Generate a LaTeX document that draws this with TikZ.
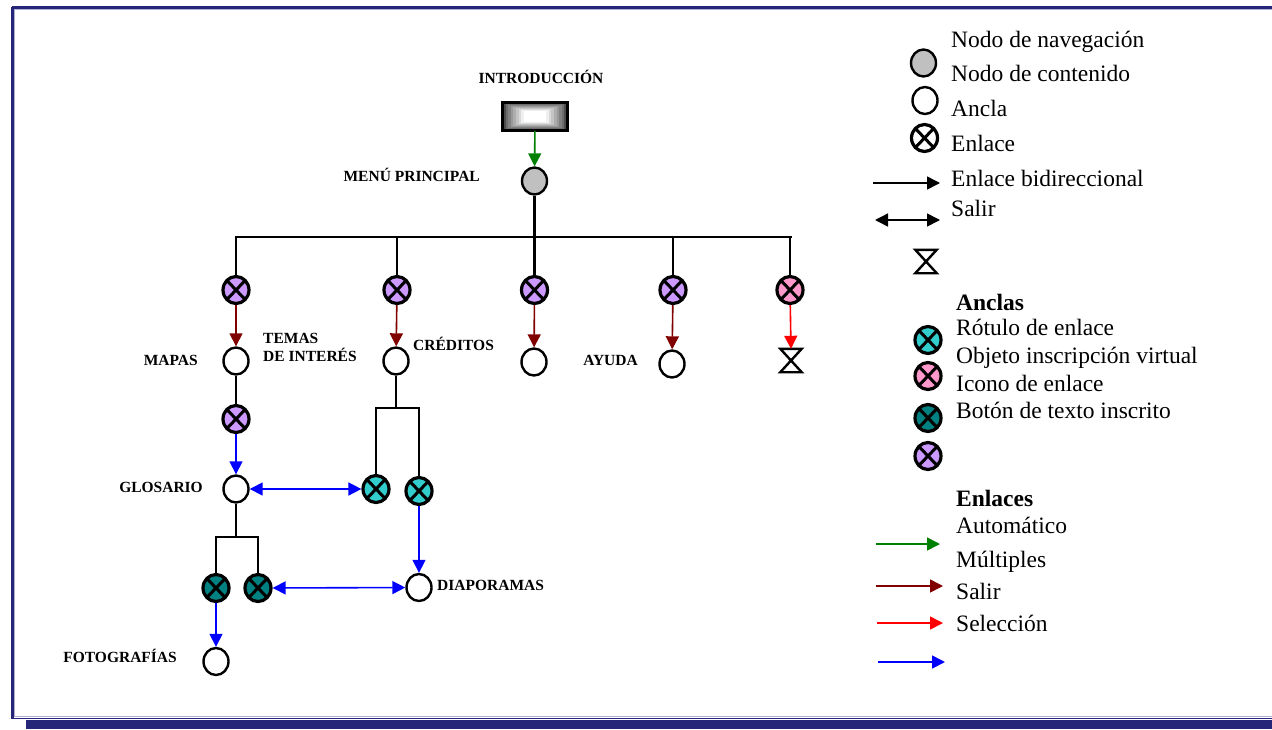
\documentclass[tikz,border=0pt]{standalone}
\usepackage{fontspec}
\setmainfont{Liberation Serif}
\usetikzlibrary{arrows.meta,shapes.geometric}
\definecolor{navy}{RGB}{38,38,120}
\definecolor{lav}{RGB}{175,175,215}
\definecolor{purp}{RGB}{204,153,255}
\definecolor{pnk}{RGB}{255,153,204}
\definecolor{cyn}{RGB}{51,204,204}
\definecolor{tl}{RGB}{0,128,128}
\definecolor{gry}{RGB}{192,192,192}
\definecolor{dred}{RGB}{128,0,0}
\definecolor{grn}{RGB}{0,128,0}
\definecolor{blu}{RGB}{0,0,255}
\definecolor{rd}{RGB}{255,0,0}
\tikzset{
  anchorc/.style={ellipse, draw, line width=2.4pt, fill=white, minimum width=25pt, minimum height=27pt, inner sep=0pt},
  navc/.style={anchorc, fill=gry},
  linkc/.style={ellipse, draw, line width=3.2pt, minimum width=26pt, minimum height=27pt, inner sep=0pt,
    path picture={\draw[line width=3pt] (path picture bounding box.north west) -- (path picture bounding box.south east)
      (path picture bounding box.north east) -- (path picture bounding box.south west);}},
  hourg/.style={minimum width=21pt, minimum height=23pt, inner sep=0pt},
  hgline/.style={line width=2.4pt, line join=miter},
  lab/.style={font=\bfseries\fontsize{15.5}{18.5}\selectfont, inner sep=0pt},
  leg/.style={font=\fontsize{23.5}{27}\selectfont, inner sep=0pt, anchor=base west},
  blk/.style={line width=2.7pt, black},
  bluearrow/.style={->, line width=1.6pt, blu},
  bluedbl/.style={<->, line width=1.6pt, blu},
  dredarrow/.style={->, line width=1.6pt, dred},
  redarrow/.style={->, line width=1.6pt, rd},
  grnarrow/.style={->, line width=1.6pt, grn},
  blkarrow/.style={->, line width=1.5pt, black},
  blkdbl/.style={<->, line width=1.5pt, black}
}
\begin{document}
\begin{tikzpicture}[x=1pt,y=-1pt,>={Triangle[length=13pt,width=13pt]}]
\useasboundingbox (0,0) rectangle (1272,729);
% frame
\draw[navy, line width=2.6pt] (11.5,7.5) -- (1272,7.5);
\draw[lav, line width=1pt] (14,9.9) -- (1272,9.9);
\draw[navy, line width=2.2pt] (12.5,6.5) -- (12.5,718.8);
\draw[lav, line width=0.8pt] (14.6,10.3) -- (14.6,716.3);
\draw[lav, line width=0.8pt] (14,716.5) -- (1272,716.5);
\draw[navy, line width=1.4pt] (11.5,718.5) -- (1272,718.5);
\fill[navy] (26,720.4) rectangle (1272,729);

% introduction
\node[lab, anchor=base] (tintro) at (541,83) {INTRODUCCIÓN};
\node[draw, line width=1.5pt, fill=black!70, minimum width=64pt, minimum height=27pt, inner sep=0pt] (intro) at (535,116.5) {};
\foreach \i in {1,...,8}{
  \pgfmathtruncatemacro\c{max(0,66-\i*8.5)}
  \fill[black!\c] ([shift={(-32+\i*2.6,-13.5+\i*0.95)}]intro.center) rectangle ([shift={(32-\i*2.6,13.5-\i*0.95)}]intro.center);
}
\draw[line width=1.6pt] (intro.north west) rectangle (intro.south east);

\node[navc] (mp) at (534.5,181) {};
\node[lab, anchor=base east] (tmp) at (480,181.5) {MENÚ PRINCIPAL};
\draw[grnarrow] (intro) -- (mp);

\coordinate (bus) at (534.5,237);
\node[linkc, fill=purp] (l1) at (236,290) {};
\node[linkc, fill=purp] (l2) at (397,290) {};
\node[linkc, fill=purp] (l3) at (534.5,290) {};
\node[linkc, fill=purp] (l4) at (673,290) {};
\node[linkc, fill=pnk] (l5) at (790,290) {};
\draw[blk] (mp) -- (bus);
\draw[blk] (l1.north) -- (l1.north |- bus) -- ([xshift=2pt]l5.north |- bus);
\draw[blk] (l5.north) -- (l5.north |- bus);
\foreach \n in {l2,l3,l4}{\draw[blk] (\n.north) -- (\n.north |- bus);}

\node[anchorc] (mapas) at (236,361) {};
\node[anchorc] (cred) at (396,361) {};
\node[anchorc] (c3) at (534,362) {};
\node[anchorc] (ayuda) at (672,364) {};
\node[hourg] (salir) at (791,360.5) {};
\draw[hgline] (salir.north west) -- (salir.north east) -- (salir.south west) -- (salir.south east) -- cycle;

\node[lab, anchor=base east] (tmapas) at (198,365) {MAPAS};
\node[lab, anchor=north west, align=left] (ttemas) at (263,333) {TEMAS\\DE INTERÉS};
\node[lab, anchor=base west] (tcred) at (413,350) {CRÉDITOS};
\node[lab, anchor=base east] (tayuda) at (638,365) {AYUDA};

\draw[dredarrow] (l1) -- (mapas);
\draw[dredarrow] (l2) -- (cred);
\draw[dredarrow] (l3) -- (c3);
\draw[dredarrow] (l4) -- (ayuda);
\draw[redarrow] (l5) -- (salir.north);

% left branch
\node[linkc, fill=purp] (l6) at (236,419) {};
\node[anchorc] (glos) at (236,489) {};
\node[lab, anchor=base east] (tglos) at (203,492) {GLOSARIO};
\draw[blk] (mapas) -- (l6);
\draw[bluearrow] (l6) -- (glos);

% credits branch
\node[linkc, fill=cyn] (c1) at (376,489) {};
\node[linkc, fill=cyn] (c2) at (419,491) {};
\coordinate (cb) at (396,408);
\draw[blk] (cred) -- (cb);
\draw[blk] (c1.north) -- (c1.north |- cb) -- (c2.north |- cb) -- (c2.north);
\draw[bluedbl] (glos) -- (c1);

\node[anchorc] (diap) at (419,587.5) {};
\node[lab, anchor=base west] (tdiap) at (437,590) {DIAPORAMAS};
\draw[bluearrow] (c2) -- (diap);

\node[linkc, fill=tl] (t1) at (216,588) {};
\node[linkc, fill=tl] (t2) at (258,588) {};
\coordinate (gb) at (236,537);
\draw[blk] (glos) -- (gb);
\draw[blk] (t1.north) -- (t1.north |- gb) -- (t2.north |- gb) -- (t2.north);
\draw[bluedbl] (t2) -- (diap);

\node[anchorc] (foto) at (216,661.5) {};
\node[lab, anchor=base east] (tfoto) at (177,662) {FOTOGRAFÍAS};
\draw[bluearrow] (t1) -- (foto);

% legend
\node[leg] (g1) at (951,47) {Nodo de navegación};
\node[navc] (gnav) at (923.5,63) {};
\node[leg] (g2) at (951,81.5) {Nodo de contenido};
\node[anchorc] (ganc) at (925,100.5) {};
\node[leg] (g3) at (951,116.5) {Ancla};
\node[linkc, fill=white] (glink) at (924.5,138) {};
\node[leg] (g4) at (951,151.5) {Enlace};
\coordinate (a1s) at (873,183); \coordinate (a1e) at (940,183);
\draw[blkarrow] (a1s) -- (a1e);
\node[leg] (g5) at (951,186.5) {Enlace bidireccional};
\coordinate (a2s) at (875,220); \coordinate (a2e) at (940,220);
\draw[blkdbl] (a2s) -- (a2e);
\node[leg] (g6) at (951,216.5) {Salir};
\node[hourg] (ghg) at (926,261.5) {};
\draw[hgline] (ghg.north west) -- (ghg.north east) -- (ghg.south west) -- (ghg.south east) -- cycle;

\node[leg, font=\bfseries\fontsize{23.5}{27}\selectfont] (g7) at (956,310) {Anclas};
\node[linkc, fill=cyn] (gcyn) at (928,340) {};
\node[leg] (g8) at (956,335) {Rótulo de enlace};
\node[leg] (g9) at (956,363) {Objeto inscripción virtual};
\node[linkc, fill=pnk] (gpnk) at (928,376) {};
\node[leg] (g10) at (956,391.5) {Icono de enlace};
\node[linkc, fill=tl] (gtl) at (928,418) {};
\node[leg] (g11) at (956,418.5) {Botón de texto inscrito};
\node[linkc, fill=purp] (gpurp) at (928,456) {};

\node[leg, font=\bfseries\fontsize{23.5}{27}\selectfont] (g12) at (956,506) {Enlaces};
\node[leg] (g13) at (956,533.5) {Automático};
\coordinate (b1s) at (876,544); \coordinate (b1e) at (940,544);
\draw[grnarrow] (b1s) -- (b1e);
\node[leg] (g14) at (956,567.5) {Múltiples};
\coordinate (b2s) at (876,586); \coordinate (b2e) at (943,586);
\draw[dredarrow] (b2s) -- (b2e);
\node[leg] (g15) at (956,599.5) {Salir};
\coordinate (b3s) at (877,623); \coordinate (b3e) at (943,623);
\draw[redarrow] (b3s) -- (b3e);
\node[leg] (g16) at (956,631.7) {Selección};
\coordinate (b4s) at (878,662); \coordinate (b4e) at (945,662);
\draw[bluearrow] (b4s) -- (b4e);
\end{tikzpicture}
\end{document}
